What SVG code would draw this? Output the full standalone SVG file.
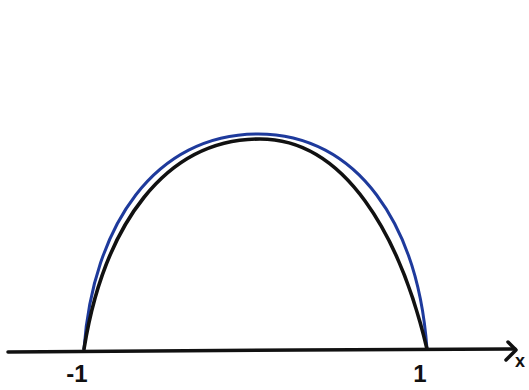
<svg xmlns="http://www.w3.org/2000/svg" width="529" height="390" viewBox="0 0 529 390">
<style>
.ax{fill:none;stroke:#111;stroke-width:3.5;stroke-linecap:round;stroke-linejoin:round}
.blue{fill:none;stroke:#1e3a9c;stroke-width:3;stroke-linecap:round}
.black{fill:none;stroke:#111;stroke-width:3.6;stroke-linecap:round}
.lbl{font-family:"Liberation Sans",Arial,sans-serif;font-weight:bold;fill:#111}
</style>
<rect width="529" height="390" fill="#ffffff"/>
<g id="curves">
<path class="blue" d="M84,349 C93,225 155,134 258,134 C358,134 418,225 427,349"/>
<path class="black" d="M84,349 C104,225 165,139 260,139 C345,139 400,235 427,349"/>
</g>
<g id="axis">
<path class="ax" d="M8,352 L300,350 L515,349"/>
<path class="ax" d="M508,342 L516,350 L506,360"/>
</g>
<g id="labels">
<text class="lbl" x="77" y="382" font-size="24" text-anchor="middle">-1</text>
<text class="lbl" x="420" y="382" font-size="24" text-anchor="middle">1</text>
<text class="lbl" x="520" y="367" font-size="18" text-anchor="middle">x</text>
</g>
</svg>
